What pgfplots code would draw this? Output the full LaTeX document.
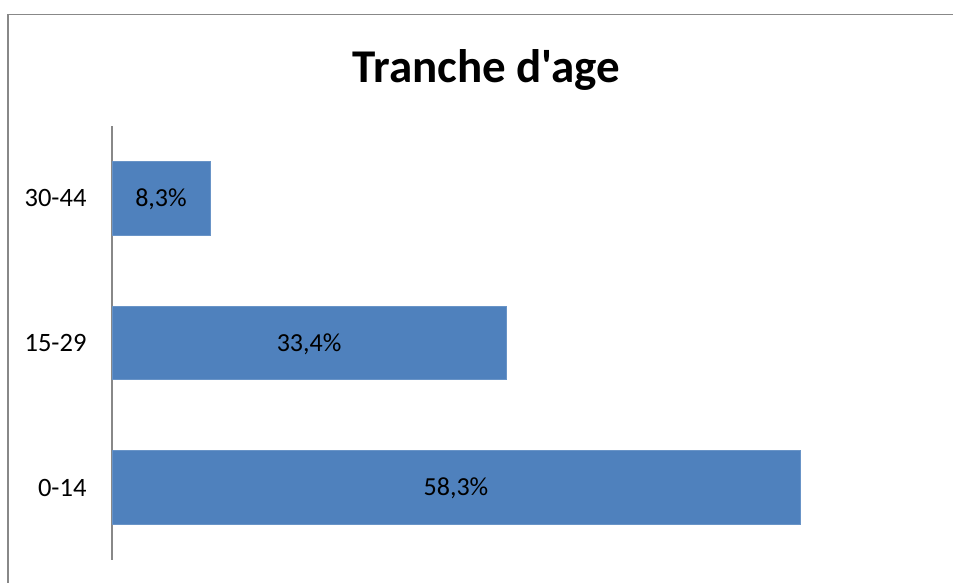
\documentclass[border=0pt]{standalone}
\usepackage{pgfplots}
\pgfplotsset{compat=1.18}
\usepackage{fontspec}
\setmainfont{Carlito}
\newfontfamily\titlefont{Carlito}
\definecolor{barblue}{HTML}{4F81BD}
\definecolor{bargray}{HTML}{888888}
\begin{document}
\begin{tikzpicture}[x=1pt,y=1pt]
\useasboundingbox (0,0) rectangle (953,583);
\draw[bargray, line width=1.6pt] (7.8,-5) -- (7.8,568.5) -- (960,568.5);
\node[anchor=base, font=\titlefont\fontsize{47}{56}\selectfont\bfseries] at (486.5,500) {Tranche d'age};
\begin{axis}[
  at={(112pt,23pt)}, anchor=south west,
  scale only axis, width=826pt, height=434pt,
  xmin=0, xmax=70, ymin=-0.5, ymax=2.5,
  xbar, bar width=0.51,
  axis x line=none,
  axis y line*=left,
  y axis line style={bargray, line width=1.6pt, -},
  ytick={0,1,2}, yticklabels={0-14,15-29,30-44},
  major tick length=0pt,
  yticklabel style={font=\fontsize{26.5}{30}\selectfont, xshift=-22pt},
  clip=false,
  point meta=explicit symbolic,
  visualization depends on={x \as \rawx},
  nodes near coords,
  every node near coord/.append style={anchor=center, font=\fontsize{26}{30}\selectfont, text=black, xshift={-\rawx*5.9pt}, yshift=-1pt},
]
\addplot[fill=barblue, draw=barblue!85!white, line width=0.8pt] coordinates {
  (58.3,0) [58,3\%]
  (33.4,1) [33,4\%]
  (8.3,2) [8,3\%]
};
\end{axis}
\end{tikzpicture}
\end{document}
